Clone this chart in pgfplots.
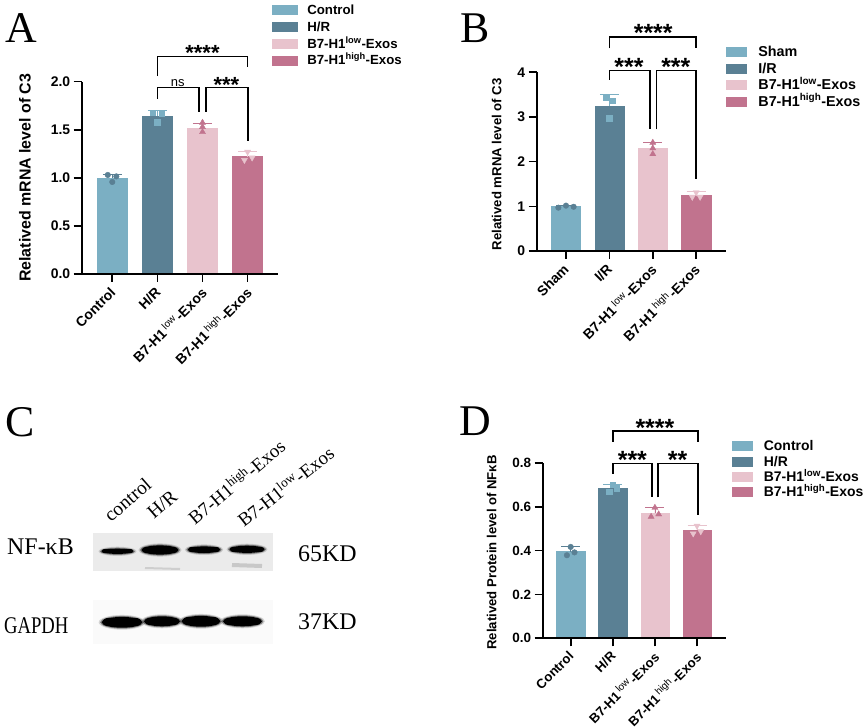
\documentclass[border=0pt]{standalone}
\usepackage{pgfplots}
\pgfplotsset{compat=1.18}
\usepackage{fontspec}
\setmainfont{Liberation Sans}
\newfontfamily\serif{Liberation Serif}

\definecolor{cctl}{HTML}{7BAFC3}
\definecolor{chr}{HTML}{5A8094}
\definecolor{clow}{HTML}{E8C3CD}
\definecolor{chigh}{HTML}{C1738E}

\newcommand\fs[1]{\fontsize{#1}{#1}\selectfont}
\newcommand\lowtick{B7-H1\hspace{2bp}\raisebox{4.5bp}{\mdseries\fs{10}low}\hspace{2bp}-Exos}
\newcommand\hightick{B7-H1\hspace{2bp}\raisebox{4.5bp}{\mdseries\fs{10}high}\hspace{2bp}-Exos}
\newcommand\lowleg{B7-H1\smash{\textsuperscript{low}}-Exos}
\newcommand\highleg{B7-H1\smash{\textsuperscript{high}}-Exos}

% bracket: x0 x1 y yleft yright
\newcommand\bracket[5]{\addplot[black,line width=1.6bp,forget plot] coordinates {(#1,#4) (#1,#3) (#2,#3) (#2,#5)};}
% stars: x y text size
\newcommand\sig[4]{\node[font=\bfseries\fs{#4},anchor=base,yshift={-0.47*#4 bp},inner sep=0pt] at (axis cs:#1,#2) {#3};}
% western blot band: x0 x1 y half height
\newcommand\band[4]{%
  \fill[black,opacity=0.15] (axis cs:{(#1+#2)/2},#3) ellipse [x radius={(#2-#1)/2+#4+3 bp},y radius={#4+2 bp}];
  \fill[black,opacity=0.4] (axis cs:{(#1+#2)/2},#3) ellipse [x radius={(#2-#1)/2+#4+1.5 bp},y radius={#4+1 bp}];
  \fill[black] (axis cs:{(#1+#2)/2},#3) ellipse [x radius={(#2-#1)/2+#4 bp},y radius={#4 bp}];
  \draw[black,line width={1.5*#4 bp},line cap=round] (axis cs:#1,#3) -- (axis cs:#2,#3);}

\pgfplotsset{
  panel/.style={
    scale only axis, axis lines=left, axis line style={-,line width=1.6bp},
    axis on top, clip=false, ymin=0,
    xtick={0,1,2,3},
    major tick length=8bp,
    tick align=outside,
    tick style={black,line width=1.6bp},
    x tick style={black}, minor tick num=0,
    legend style={draw=none,fill=none,inner sep=0pt,outer sep=0pt,cells={anchor=west}},
  },
  mybar/.style={ybar,bar shift=0pt,bar width=\barw,fill=#1,draw=#1,
    legend image code/.code={\fill[##1] (0bp,-4bp) rectangle (\swatchw,5bp);}},
  err/.style={error bars/.cd,y dir=plus,y explicit,
    error bar style={color=#1,line width=0.8bp},
    error mark options={rotate=90,color=#1,mark size=9.5bp,line width=0.8bp}},
  dot/.style={only marks,forget plot,color=#1,mark size=2.8bp},
  tri/.style={only marks,forget plot,color=#1,mark size=3.5bp},
}

\begin{document}
\begin{tikzpicture}
\path[use as bounding box] (0,0) rectangle (865bp,728bp);

% panel letters and the blot of panel C, in picture pixels
\begin{axis}[at={(0,0)},anchor=south west,scale only axis,width=865bp,height=728bp,
  xmin=0,xmax=865,ymin=0,ymax=728,y dir=reverse,hide axis,clip=false]
\node[font=\serif\fs{44},anchor=base west,inner sep=0pt] at (axis cs:5,43) {A};
\node[font=\serif\fs{44},anchor=base west,inner sep=0pt] at (axis cs:460,43) {B};
\node[font=\serif\fs{44},anchor=base west,inner sep=0pt] at (axis cs:5,436) {C};
\node[font=\serif\fs{44},anchor=base west,inner sep=0pt] at (axis cs:459,435) {D};

\fill[black!8] (axis cs:93,533) rectangle (axis cs:273,571);
\fill[black!2] (axis cs:93,600) rectangle (axis cs:273,644);
\draw[black!30,opacity=0.5,line width=2bp] (axis cs:145,568) -- (axis cs:180,569);
\draw[black!30,opacity=0.6,line width=4bp] (axis cs:232,565) -- (axis cs:262,566);
\band{104}{131}{551.3}{2.6}
\band{146}{174}{550}{4.6}
\band{191}{217}{549.7}{3.3}
\band{233}{261}{549.3}{3.6}
\band{107}{137}{622.3}{5.4}
\band{149}{175}{621.3}{5}
\band{187}{215}{621.3}{5.4}
\band{228}{257}{621.3}{5}

\node[font=\serif\fs{24},anchor=base west,inner sep=0pt] at (axis cs:7,554) {NF-κB};
\node[font=\serif\fs{24},anchor=base west,inner sep=0pt,xscale=0.78] at (axis cs:4,633) {GAPDH};
\node[font=\serif\fs{24},anchor=base west,inner sep=0pt] at (axis cs:298,561) {65KD};
\node[font=\serif\fs{24},anchor=base west,inner sep=0pt] at (axis cs:298,629) {37KD};
\node[font=\serif\fs{19.5},anchor=base west,inner sep=0pt,rotate=41] at (axis cs:111,523) {control};
\node[font=\serif\fs{19.5},anchor=base west,inner sep=0pt,rotate=41] at (axis cs:154,520) {H/R};
\node[font=\serif\fs{19},anchor=base west,inner sep=0pt,rotate=40] at (axis cs:195,526) {B7-H1\textsuperscript{high}-Exos};
\node[font=\serif\fs{19},anchor=base west,inner sep=0pt,rotate=38] at (axis cs:244,528) {B7-H1\textsuperscript{low}-Exos};
\end{axis}

% panel A
\def\barw{30bp}\def\swatchw{25bp}
\begin{axis}[panel,at={(81.7bp,454bp)},anchor=south west,width=196.3bp,height=192.3bp,
  xmin=-0.678,xmax=3.674,ymax=2,ytick={0,0.5,1,1.5,2},
  xticklabels={Control,H/R,\lowtick,\hightick},
  xticklabel style={font=\bfseries\fs{14},xshift=-3bp,yshift=-2.5bp,rotate=45,anchor=north east,inner sep=1bp},
  yticklabel style={font=\bfseries\fs{14},/pgf/number format/.cd,fixed,fixed zerofill,precision=1,assume math mode=true},
  ylabel={Relatived mRNA level of C3},
  ylabel style={font=\bfseries\fs{16},at={(axis description cs:-0.289,0.5)},anchor=center},
  legend style={at={(axis description cs:0.969,1.409)},anchor=north west,font=\bfseries\fs{13.3},
    /tikz/every odd column/.append style={column sep=8bp},/tikz/row sep=2bp},
]
\addplot[mybar=cctl,err=chr] coordinates {(0,1.00) +- (0,0.04)};
\addplot[mybar=chr,err=cctl] coordinates {(1,1.64) +- (0,0.06)};
\addplot[mybar=clow,err=chigh] coordinates {(2,1.52) +- (0,0.05)};
\addplot[mybar=chigh,err=clow] coordinates {(3,1.22) +- (0,0.05)};
\legend{Control,H/R,\lowleg,\highleg}
\addplot[dot=chr,mark=*] coordinates {(-0.1,1.03) (0.09,1.015) (0,0.957)};
\addplot[dot=cctl,mark=square*] coordinates {(0.9,1.678) (1.1,1.67) (1,1.577)};
\addplot[tri=chigh,mark=triangle*] coordinates {(2,1.574) (2,1.53) (2,1.477)};
\addplot[tri=clow,mark=triangle*,mark options={rotate=180}] coordinates {(2.93,1.185) (3.1,1.21) (3,1.27)};
\bracket{1}{3}{2.26}{2.059}{2.156}
\bracket{1}{1.929}{1.938}{1.823}{1.688}
\bracket{2.077}{3.015}{1.938}{1.688}{1.386}
\sig{2}{2.33}{****}{22}
\sig{2.53}{2.0}{***}{22}
\node[font=\fs{13},anchor=base,inner sep=0pt] at (axis cs:1.45,1.95) {ns};
\end{axis}

% panel B
\def\barw{29.3bp}\def\swatchw{20bp}
\begin{axis}[panel,at={(536.7bp,477bp)},anchor=south west,width=189.3bp,height=178.7bp,
  xmin=-0.675,xmax=3.687,ymax=4,ytick={0,1,2,3,4},
  xticklabels={Sham,I/R,\lowtick,\hightick},
  xticklabel style={font=\bfseries\fs{14},xshift=-3.5bp,yshift=-2.5bp,rotate=45,anchor=north east,inner sep=1bp},
  yticklabel style={font=\bfseries\fs{14},/pgf/number format/.cd,fixed,precision=0,assume math mode=true},
  ylabel={Relatived mRNA level of C3},
  ylabel style={font=\bfseries\fs{13.2},at={(axis description cs:-0.211,0.485)},anchor=center},
  legend style={at={(axis description cs:1.0,1.158)},anchor=north west,font=\bfseries\fs{14.4},
    /tikz/every odd column/.append style={column sep=10bp},/tikz/row sep=1bp},
]
\addplot[mybar=cctl,err=chr] coordinates {(0,1.00) +- (0,0.03)};
\addplot[mybar=chr,err=cctl] coordinates {(1,3.25) +- (0,0.26)};
\addplot[mybar=clow,err=chigh] coordinates {(2,2.30) +- (0,0.13)};
\addplot[mybar=chigh,err=clow] coordinates {(3,1.25) +- (0,0.09)};
\legend{Sham,I/R,\lowleg,\highleg}
\addplot[dot=chr,mark=*] coordinates {(-0.176,0.97) (0,1.015) (0.176,0.99)};
\addplot[dot=cctl,mark=square*] coordinates {(0.915,3.44) (1.08,3.366) (1,2.97)};
\addplot[tri=chigh,mark=triangle*] coordinates {(2,2.425) (2,2.30) (2,2.17)};
\addplot[tri=clow,mark=triangle*,mark options={rotate=180}] coordinates {(2.91,1.21) (3.09,1.21) (3,1.31)};
\bracket{1}{3}{4.784}{4.537}{4.537}
\bracket{1}{1.93}{4.037}{3.83}{2.73}
\bracket{2.086}{3}{4.037}{2.72}{1.604}
\sig{2.01}{4.95}{****}{25}
\sig{1.45}{4.2}{***}{25}
\sig{2.53}{4.19}{***}{25}
\end{axis}

% panel D
\def\barw{28.3bp}\def\swatchw{20bp}
\begin{axis}[panel,at={(542.7bp,89.7bp)},anchor=south west,width=183.3bp,height=175.3bp,
  xmin=-0.665,xmax=3.689,ymax=0.8,ytick={0,0.2,0.4,0.6,0.8},
  xticklabels={Control,H/R,\lowtick,\hightick},
  xticklabel style={font=\bfseries\fs{13.2},xshift=-3bp,yshift=-2.5bp,rotate=45,anchor=north east,inner sep=1bp},
  yticklabel style={font=\bfseries\fs{13.5},/pgf/number format/.cd,fixed,fixed zerofill,precision=1,assume math mode=true},
  ylabel={Relatived Protein level of NFκB},
  ylabel style={font=\bfseries\fs{13.2},at={(axis description cs:-0.278,0.49)},anchor=center},
  legend style={at={(axis description cs:1.03,1.14)},anchor=north west,font=\bfseries\fs{14},
    /tikz/every odd column/.append style={column sep=10bp},/tikz/row sep=0bp},
]
\addplot[mybar=cctl,err=chr] coordinates {(0,0.396) +- (0,0.022)};
\addplot[mybar=chr,err=cctl] coordinates {(1,0.685) +- (0,0.018)};
\addplot[mybar=clow,err=chigh] coordinates {(2,0.571) +- (0,0.025)};
\addplot[mybar=chigh,err=clow] coordinates {(3,0.494) +- (0,0.02)};
\legend{Control,H/R,\lowleg,\highleg}
\addplot[dot=chr,mark=*] coordinates {(-0.09,0.379) (0.09,0.392) (0,0.417)};
\addplot[dot=cctl,mark=square*] coordinates {(0.91,0.669) (1.09,0.684) (1,0.701)};
\addplot[tri=chigh,mark=triangle*] coordinates {(1.91,0.555) (2.09,0.566) (2,0.596)};
\addplot[tri=clow,mark=triangle*,mark options={rotate=180}] coordinates {(2.91,0.478) (3.09,0.488) (3,0.513)};
\bracket{1}{3.02}{0.946}{0.896}{0.896}
\bracket{1}{1.924}{0.798}{0.751}{0.643}
\bracket{2.08}{3.02}{0.798}{0.643}{0.563}
\sig{2}{0.976}{****}{25}
\sig{1.465}{0.829}{***}{25}
\sig{2.54}{0.829}{**}{25}
\end{axis}
\end{tikzpicture}
\end{document}
